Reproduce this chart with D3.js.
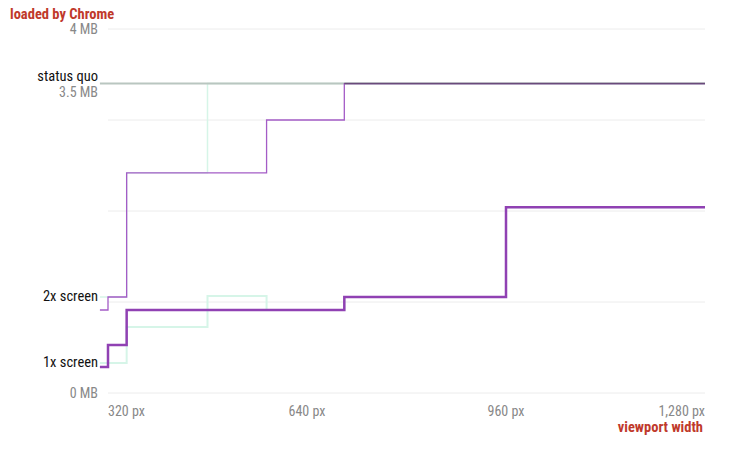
<!DOCTYPE html>
<html><head><meta charset="utf-8">
<script src="https://cdn.jsdelivr.net/npm/d3@7"></script>
<style>body{margin:0;background:#fff}text{font-family:"Liberation Sans Narrow","Roboto Condensed","Liberation Sans",sans-serif}</style>
</head><body><svg id="c" width="735" height="450"></svg>
<script>
const xTicks=[320,640,960,1280];
const xTickLabels=["320 px","640 px","960 px","1,280 px"];
const yTicks=[0,1,2,3,4];
const yTickLabels={0:"0 MB",4:"4 MB"};
// step series: [viewport start, MB]
const statusQuo=[[307,3.4],[1280,3.4]];
const green1x=[[307,0.33],[350,0.725],[480,1.066],[575,0.912],[700,1.055],[960,2.04],[1280,2.04]];
const green2x=[[307,1.055],[350,2.42],[480,3.4],[1280,3.4]];
const purple2x=[[307,0.912],[320,1.055],[350,2.42],[575,3.0],[700,3.4],[1280,3.4]];
const purple1x=[[307,0.285],[320,0.527],[350,0.912],[700,1.055],[960,2.04],[1280,2.04]];

const svg=d3.select("#c");
const x=d3.scaleLinear().domain([320,1280]).range([108,705]);
const y=d3.scaleLinear().domain([0,4]).range([393,29]);
const g=svg.append("g");
yTicks.forEach(t=>{
  g.append("line").attr("x1",108).attr("x2",705).attr("y1",y(t)).attr("y2",y(t)).attr("stroke","#ececec").attr("stroke-width",1);
  if(yTickLabels[t]) g.append("text").attr("x",98).attr("y",y(t)+5).attr("text-anchor","end").attr("font-size",14).attr("fill","#888").text(yTickLabels[t]);
});
xTicks.forEach((t,i)=>{
  g.append("text").attr("x",x(t)).attr("y",416).attr("font-size",14).attr("fill","#888")
   .attr("text-anchor",i==0?"start":i==xTicks.length-1?"end":"middle").text(xTickLabels[i]);
});
const line=d3.line().x(d=>x(d[0])).y(d=>y(d[1])).curve(d3.curveStepAfter);
const draw=(data,c,w)=>g.append("path").attr("d",line(data)).attr("fill","none").attr("stroke",c).attr("stroke-width",w);
draw(green1x,"#d6f5e8",2);
draw(green2x,"#d6f5e8",1.5);
draw(statusQuo,"#b9c6c0",2);
draw(purple2x,"#a45cc6",1.3);
draw(purple1x,"#9041b3",2.5);
g.append("path").attr("d",line(statusQuo.map((d,i)=>[i?1280:700,d[1]]))).attr("fill","none").attr("stroke","#6a4a7a").attr("stroke-width",1.5);
g.append("text").attr("x",98).attr("y",81).attr("text-anchor","end").attr("font-size",14.5).attr("fill","#111").text("status quo");
g.append("text").attr("x",98).attr("y",97).attr("text-anchor","end").attr("font-size",14).attr("fill","#888").text("3.5 MB");
g.append("text").attr("x",98).attr("y",301).attr("text-anchor","end").attr("font-size",14.5).attr("fill","#111").text("2x screen");
g.append("text").attr("x",98).attr("y",367).attr("text-anchor","end").attr("font-size",14.5).attr("fill","#111").text("1x screen");
g.append("text").attr("x",10).attr("y",19).attr("font-size",14.5).attr("font-weight","bold").attr("fill","#c0392b").text("loaded by Chrome");
g.append("text").attr("x",703).attr("y",432).attr("text-anchor","end").attr("font-size",14.5).attr("font-weight","bold").attr("fill","#c0392b").text("viewport width");
</script></body></html>
